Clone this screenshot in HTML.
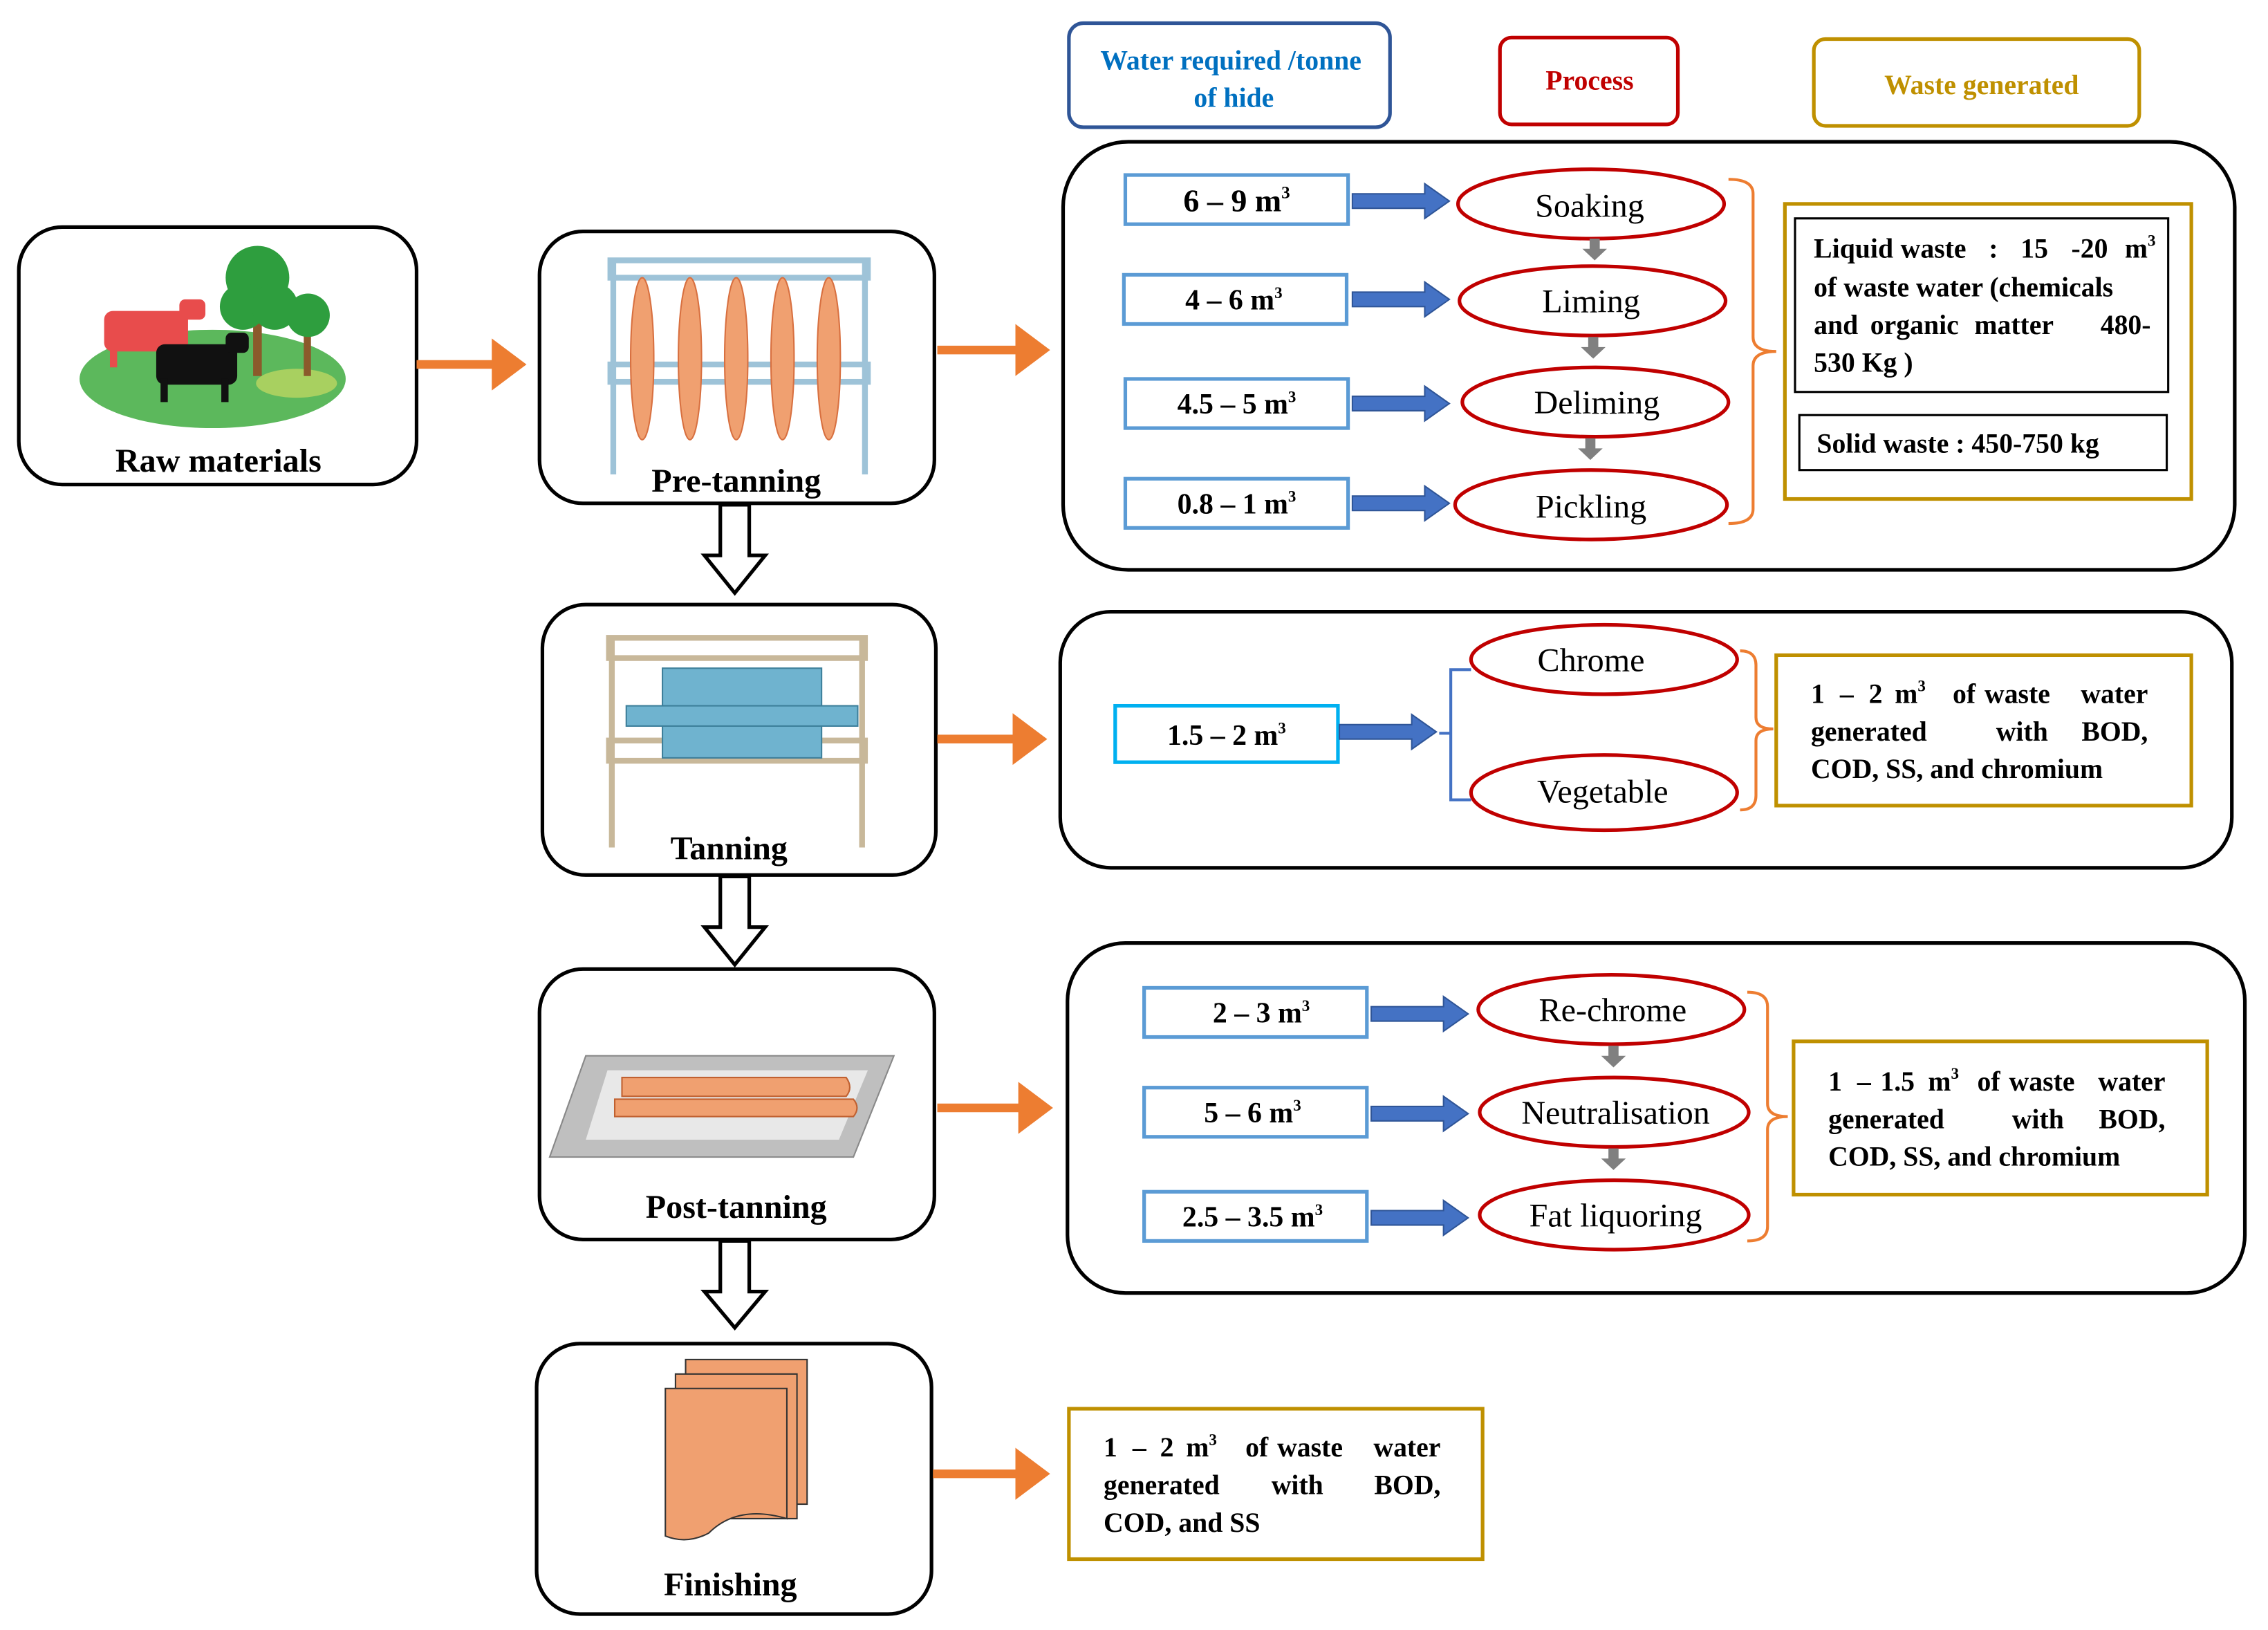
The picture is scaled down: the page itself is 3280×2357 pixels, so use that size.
<!DOCTYPE html>
<html><head><meta charset="utf-8"><style>
html,body{margin:0;padding:0;background:#fff;}
svg{display:block;}
text{font-family:"Liberation Serif",serif;}
.b{font-weight:bold;}
</style></head><body>
<svg width="3280" height="2357" viewBox="0 0 1568 1127" preserveAspectRatio="none" xmlns="http://www.w3.org/2000/svg">
<defs>
<marker id="oa" markerWidth="6" markerHeight="6" refX="3" refY="3" orient="auto" markerUnits="strokeWidth"><path d="M0,0L4,3L0,6z" fill="#ed7d31"/></marker>
</defs>
<rect x="739" y="16" width="222" height="72" rx="10" fill="#fff" stroke="#2f5597" stroke-width="2.5"/>
<text x="851" y="48" font-size="19" class="b" fill="#0070c0" text-anchor="middle">Water required /tonne</text>
<text x="853" y="74" font-size="19" class="b" fill="#0070c0" text-anchor="middle">of hide</text>
<rect x="1037" y="26" width="123" height="60" rx="8" fill="#fff" stroke="#c00000" stroke-width="2.5"/>
<text x="1099" y="62" font-size="19" class="b" fill="#c00000" text-anchor="middle">Process</text>
<rect x="1254" y="27" width="225" height="60" rx="8" fill="#fff" stroke="#bf9000" stroke-width="2.5"/>
<text x="1370" y="65" font-size="19" class="b" fill="#bf9000" text-anchor="middle">Waste generated</text>

<g fill="#fff" stroke="#000" stroke-width="2.5">
<rect x="13" y="157" width="275" height="178" rx="30"/>
<rect x="373" y="160" width="273" height="188" rx="30"/>
<rect x="375" y="418" width="272" height="187" rx="30"/>
<rect x="373" y="670" width="273" height="187" rx="30"/>
<rect x="371" y="929" width="273" height="187" rx="30"/>
<rect x="735" y="98" width="810" height="296" rx="45"/>
<rect x="733" y="423" width="810" height="177" rx="35"/>
<rect x="738" y="652" width="814" height="242" rx="40"/>
</g>
<g font-size="23" class="b" text-anchor="middle" fill="#000">
<text x="151" y="326">Raw materials</text>
<text x="509" y="340">Pre-tanning</text>
<text x="504" y="594">Tanning</text>
<text x="509" y="842">Post-tanning</text>
<text x="505" y="1103">Finishing</text>
</g>

<ellipse cx="147" cy="262" rx="92" ry="34" fill="#5cb85c"/>
<ellipse cx="205" cy="265" rx="28" ry="10" fill="#a8d060"/>
<rect x="175" y="200" width="6" height="60" fill="#8b5a2b"/>
<circle cx="178" cy="192" r="22" fill="#2e9e3e"/><circle cx="168" cy="212" r="16" fill="#2e9e3e"/><circle cx="190" cy="212" r="16" fill="#2e9e3e"/>
<rect x="210" y="222" width="5" height="38" fill="#8b5a2b"/>
<circle cx="213" cy="218" r="15" fill="#2e9e3e"/>
<rect x="72" y="215" width="58" height="28" rx="6" fill="#e84c4c"/>
<rect x="124" y="207" width="18" height="14" rx="4" fill="#e84c4c"/>
<rect x="76" y="240" width="5" height="14" fill="#e84c4c"/><rect x="120" y="240" width="5" height="14" fill="#e84c4c"/>
<rect x="108" y="238" width="56" height="28" rx="6" fill="#111"/>
<rect x="156" y="230" width="16" height="14" rx="4" fill="#111"/>
<rect x="111" y="262" width="5" height="16" fill="#111"/><rect x="153" y="262" width="5" height="16" fill="#111"/>

<g fill="none" stroke="#9ec3d8" stroke-width="4">
<rect x="422" y="180" width="178" height="12"/>
<rect x="422" y="252" width="178" height="12"/>
<line x1="424" y1="180" x2="424" y2="328"/><line x1="598" y1="180" x2="598" y2="328"/>
</g>
<g fill="#f0a070" stroke="#d87040" stroke-width="1">
<ellipse cx="444" cy="248" rx="8" ry="56"/><ellipse cx="477" cy="248" rx="8" ry="56"/><ellipse cx="509" cy="248" rx="8" ry="56"/><ellipse cx="541" cy="248" rx="8" ry="56"/><ellipse cx="573" cy="248" rx="8" ry="56"/>
</g>

<g fill="none" stroke="#c8b89a" stroke-width="4">
<rect x="421" y="441" width="177" height="14"/>
<rect x="421" y="512" width="177" height="14"/>
<line x1="423" y1="441" x2="423" y2="586"/><line x1="596" y1="441" x2="596" y2="586"/>
</g>
<rect x="458" y="462" width="110" height="62" fill="#6fb3cf" stroke="#3d7f9a"/>
<rect x="433" y="488" width="160" height="14" fill="#6fb3cf" stroke="#3d7f9a"/>

<polygon points="405,730 618,730 590,800 380,800" fill="#bfbfbf" stroke="#888"/>
<polygon points="420,740 600,740 580,788 405,788" fill="#e8e8e8"/>
<g fill="#f0a070" stroke="#c06030">
<path d="M430,745 H585 Q590,752 585,758 H430 Z"/>
<path d="M425,760 H590 Q595,766 590,772 H425 Z"/>
</g>

<rect x="474" y="940" width="84" height="100" fill="#f0a070" stroke="#333"/>
<rect x="467" y="950" width="84" height="100" fill="#f0a070" stroke="#333"/>
<path d="M460,960 H544 V1050 Q510,1040 490,1060 Q475,1068 460,1062 Z" fill="#f0a070" stroke="#333"/>

<g stroke="#ed7d31" stroke-width="6" marker-end="url(#oa)">
<line x1="288" y1="252" x2="358" y2="252"/>
<line x1="648" y1="242" x2="720" y2="242"/>
<line x1="648" y1="511" x2="718" y2="511"/>
<line x1="648" y1="766" x2="722" y2="766"/>
<line x1="645" y1="1019" x2="720" y2="1019"/>
</g>
<g fill="#fff" stroke="#000" stroke-width="2.5">
<path d="M498,349 H518 V384 H529 L508,410 L487,384 H498 Z"/>
<path d="M498,606 H518 V641 H529 L508,667 L487,641 H498 Z"/>
<path d="M498,858 H518 V893 H529 L508,918 L487,893 H498 Z"/>
</g>

<g fill="#fff" stroke="#5b9bd5" stroke-width="2.5">
<rect x="778" y="121" width="154" height="34"/>
<rect x="777" y="190" width="154" height="34"/>
<rect x="778" y="262" width="154" height="34"/>
<rect x="778" y="331" width="154" height="34"/>
<rect x="791" y="683" width="154" height="34"/>
<rect x="791" y="752" width="154" height="34"/>
<rect x="791" y="824" width="154" height="34"/>
</g>
<rect x="771" y="488" width="154" height="39" fill="#fff" stroke="#00b0f0" stroke-width="2.5"/>
<g font-size="20" class="b" text-anchor="middle">
<text x="855" y="146" font-size="22">6 – 9 m<tspan font-size="12" dy="-9">3</tspan></text>
<text x="853" y="214">4 – 6 m<tspan font-size="11" dy="-8">3</tspan></text>
<text x="855" y="286">4.5 – 5 m<tspan font-size="11" dy="-8">3</tspan></text>
<text x="855" y="355">0.8 – 1 m<tspan font-size="11" dy="-8">3</tspan></text>
<text x="848" y="515">1.5 – 2 m<tspan font-size="11" dy="-8">3</tspan></text>
<text x="872" y="707">2 – 3 m<tspan font-size="11" dy="-8">3</tspan></text>
<text x="866" y="776">5 – 6 m<tspan font-size="11" dy="-8">3</tspan></text>
<text x="866" y="848">2.5 – 3.5 m<tspan font-size="11" dy="-8">3</tspan></text>
</g>
<g fill="#4472c4" stroke="#2f5597" stroke-width="1">
<path d="M935,134 H985 V127 L1002,139 L985,151 V144 H935 Z"/>
<path d="M935,202 H985 V195 L1002,207 L985,219 V212 H935 Z"/>
<path d="M935,274 H985 V267 L1002,279 L985,291 V284 H935 Z"/>
<path d="M935,343 H985 V336 L1002,348 L985,360 V353 H935 Z"/>
<path d="M926,501 H976 V494 L993,506 L976,518 V511 H926 Z"/>
<path d="M948,696 H998 V689 L1015,701 L998,713 V706 H948 Z"/>
<path d="M948,765 H998 V758 L1015,770 L998,782 V775 H948 Z"/>
<path d="M948,837 H998 V830 L1015,842 L998,854 V847 H948 Z"/>
</g>
<g fill="#fff" stroke="#c00000" stroke-width="2.5">
<ellipse cx="1100" cy="141" rx="92" ry="24"/>
<ellipse cx="1101" cy="208" rx="92" ry="24"/>
<ellipse cx="1103" cy="278" rx="92" ry="24"/>
<ellipse cx="1100" cy="349" rx="94" ry="24"/>
<ellipse cx="1109" cy="456" rx="92" ry="24"/>
<ellipse cx="1109" cy="548" rx="92" ry="26"/>
<ellipse cx="1114" cy="698" rx="92" ry="24"/>
<ellipse cx="1116" cy="769" rx="93" ry="24"/>
<ellipse cx="1116" cy="840" rx="93" ry="24"/>
</g>
<g font-size="23" text-anchor="middle">
<text x="1099" y="150">Soaking</text>
<text x="1100" y="216">Liming</text>
<text x="1104" y="286">Deliming</text>
<text x="1100" y="358">Pickling</text>
<text x="1100" y="464">Chrome</text>
<text x="1108" y="555">Vegetable</text>
<text x="1115" y="706">Re-chrome</text>
<text x="1117" y="777">Neutralisation</text>
<text x="1117" y="848">Fat liquoring</text>
</g>
<g fill="#808080">
<path d="M1099,165 h7 v7 h5 l-8.5,8 l-8.5,-8 h5 z"/>
<path d="M1098,233 h7 v7 h5 l-8.5,8 l-8.5,-8 h5 z"/>
<path d="M1096,303 h7 v7 h5 l-8.5,8 l-8.5,-8 h5 z"/>
<path d="M1112,723 h7 v7 h5 l-8.5,8 l-8.5,-8 h5 z"/>
<path d="M1112,794 h7 v7 h5 l-8.5,8 l-8.5,-8 h5 z"/>
</g>
<g fill="none" stroke="#ed7d31" stroke-width="2">
<path d="M1195,124 Q1212,124 1212,134 V233 Q1212,243 1228,243 Q1212,243 1212,253 V352 Q1212,362 1195,362"/>
<path d="M1203,450 Q1214,450 1214,460 V496 Q1214,504 1226,504 Q1214,504 1214,512 V550 Q1214,560 1203,560"/>
<path d="M1208,686 Q1222,686 1222,696 V763 Q1222,772 1236,772 Q1222,772 1222,781 V848 Q1222,858 1208,858"/>
</g>
<path d="M1017,463 H1003 V553 H1017 M995,507 H1003" fill="none" stroke="#4472c4" stroke-width="2"/>

<g fill="#fff" stroke="#bf9000" stroke-width="2.5">
<rect x="1234" y="141" width="281" height="204"/>
<rect x="1228" y="453" width="287" height="104"/>
<rect x="1240" y="720" width="286" height="106"/>
<rect x="739" y="974" width="286" height="104"/>
</g>
<g fill="#fff" stroke="#000" stroke-width="1.5">
<rect x="1241" y="151" width="258" height="120"/>
<rect x="1244" y="287" width="254" height="38"/>
</g>
<g font-size="19" class="b">
<text x="1254" y="178">Liquid</text><text x="1314" y="178">waste</text><text x="1375" y="178">:</text><text x="1397" y="178">15</text><text x="1432" y="178">-20</text><text x="1469" y="178">m<tspan font-size="11" dy="-8">3</tspan></text>
<text x="1254" y="205">of waste water (chemicals</text>
<text x="1254" y="231">and</text><text x="1293" y="231">organic</text><text x="1365" y="231">matter</text><text x="1487" y="231" text-anchor="end">480-</text>
<text x="1254" y="257">530 Kg )</text>
<text x="1256" y="313">Solid waste : 450-750 kg</text>

<text x="1252" y="486">1</text><text x="1272" y="486">–</text><text x="1292" y="486">2</text><text x="1310" y="486">m<tspan font-size="11" dy="-8">3</tspan></text><text x="1350" y="486">of</text><text x="1372" y="486">waste</text><text x="1485" y="486" text-anchor="end">water</text>
<text x="1252" y="512">generated</text><text x="1380" y="512">with</text><text x="1485" y="512" text-anchor="end">BOD,</text>
<text x="1252" y="538">COD, SS, and chromium</text>

<text x="1264" y="754">1</text><text x="1284" y="754">–</text><text x="1300" y="754">1.5</text><text x="1333" y="754">m<tspan font-size="11" dy="-8">3</tspan></text><text x="1367" y="754">of</text><text x="1389" y="754">waste</text><text x="1497" y="754" text-anchor="end">water</text>
<text x="1264" y="780">generated</text><text x="1391" y="780">with</text><text x="1497" y="780" text-anchor="end">BOD,</text>
<text x="1264" y="806">COD, SS, and chromium</text>

<text x="763" y="1007">1</text><text x="783" y="1007">–</text><text x="802" y="1007">2</text><text x="820" y="1007">m<tspan font-size="11" dy="-8">3</tspan></text><text x="861" y="1007">of</text><text x="883" y="1007">waste</text><text x="996" y="1007" text-anchor="end">water</text>
<text x="763" y="1033">generated</text><text x="879" y="1033">with</text><text x="996" y="1033" text-anchor="end">BOD,</text>
<text x="763" y="1059">COD, and SS</text>
</g>
</svg>
</body></html>
